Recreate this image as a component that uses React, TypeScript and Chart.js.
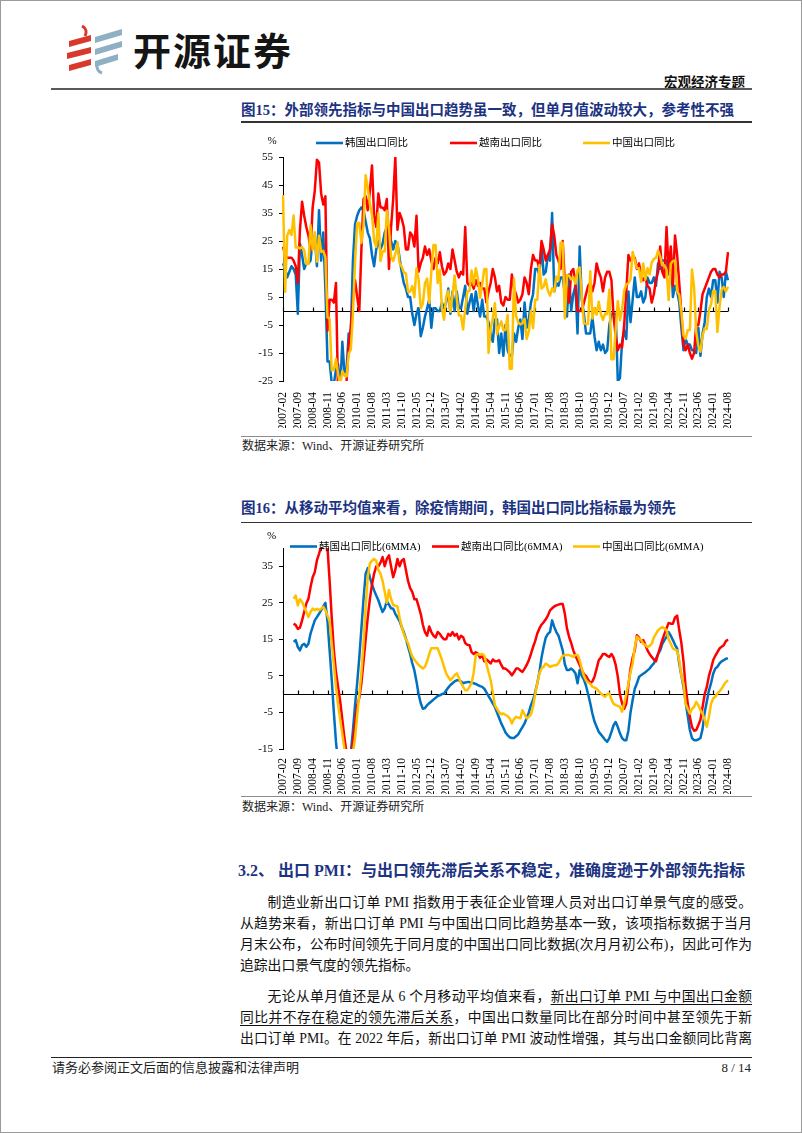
import React, { useEffect, useRef } from "react";
import { Chart, registerables } from "chart.js";

Chart.register(...registerables);

// ---------- categories (monthly, 2007-02 .. 2024-08) ----------
const MONTHS: string[] = [];
for (let y = 2007; y <= 2024; y++) {
  for (let m = 1; m <= 12; m++) {
    if (y === 2007 && m < 2) continue;
    if (y === 2024 && m > 8) continue;
    MONTHS.push(`${y}-${String(m).padStart(2, "0")}`);
  }
}

const TICK_LABELS = [
  "2007-02", "2007-09", "2008-04", "2008-11", "2009-06", "2010-01", "2010-08", "2011-03",
  "2011-10", "2012-05", "2012-12", "2013-07", "2014-02", "2014-09", "2015-04", "2015-11",
  "2016-06", "2017-01", "2017-08", "2018-03", "2018-10", "2019-05", "2019-12", "2020-07",
  "2021-02", "2021-09", "2022-04", "2022-11", "2023-06", "2024-01", "2024-08",
];

const Y1_TICKS = [-25, -15, -5, 5, 15, 25, 35, 45, 55];
const Y2_TICKS = [-15, -5, 5, 15, 25, 35];

const NAMES_1 = ["韩国出口同比", "越南出口同比", "中国出口同比"];
const NAMES_2 = ["韩国出口同比(6MMA)", "越南出口同比(6MMA)", "中国出口同比(6MMA)"];
const COLORS = ["#0070C0", "#FF0000", "#FFC000"];

// ---------- Figure 15: monthly YoY (%) ----------
const KOREA_YOY = [
  17, 15, 12, 14, 16, 15, 13, -1, 24, 20, 15,
  17, 17, 18, 26, 27, 16, 36, 18, 28, 8, -18, -18,
  -26, -26, -21, -19, -28, -11, -22, -21, -8, -8, 18, 31,
  34, 36, 37, 36, 32, 28, 26, 20, 16, 22, 25, 22,
  24, 28, 30, 27, 25, 22, 25, 24, 19, 14, 10, 8,
  5, 5, -1, -5, -1, 1, -9, -6, -2, 1, 4, -6,
  1, 1, 0, 0, 3, 1, 3, 8, -1, 7, 0, 7,
  1, 1, 5, 9, -1, 3, 6, 0, 7, 2, -2, 4,
  -2, -2, -4, -8, -11, -3, -3, -15, -8, -16, -5, -14,
  -16, -16, -8, -11, -6, -3, -10, 3, -6, -3, 3, 6,
  15, 15, 13, 24, 13, 14, 20, 18, 35, 7, 10, 9,
  12, 12, 6, -2, 13, 0, 6, 9, -8, 23, 4, -1,
  -8, -8, -8, -2, -9, -14, -11, -14, -12, -15, -14, -5,
  -1, -1, -1, -25, -24, -11, -7, -10, 7, -4, 4, 12,
  5, 5, 7, 3, 5, 12, 10, 10, 12, 9, 17, 15,
  18, 18, 18, 13, 21, 5, 9, 7, 3, -6, -14, -10,
  -12, -12, -14, -14, -15, -6, -16, -8, -4, 5, 8, 5,
  11, 11, 3, 14, 12, 5, 14, 11,
];

const VIETNAM_YOY = [
  23, 20, 19, 19, 19, 18, 16, 10, 29, 39, 34,
  30, 27, 22, 37, 43, 54, 53, 42, 38, 41, -7, 4,
  4, 3, 10, -30, -32, -30, -28, -25, -12, -6, 4, 11,
  5, 0, 22, 40, 41, 36, 43, 52, 34, 30, 42, 37,
  37, 36, 40, 15, 30, 40, 55, 29, 35, 33, 30, 22,
  22, 28, 27, 23, 34, 14, 17, 19, 23, 20, 22, 18,
  15, 19, 17, 21, 16, 13, 14, 17, 15, 22, 18, 14,
  12, 14, 13, 30, 10, 9, 10, 8, 11, 9, 10, 8,
  8, 3, 7, 10, 15, 12, 7, 9, 3, 2, 5, 4,
  4, 13, 8, 6, 3, 4, 6, 12, 10, 6, 15, 20,
  18, 18, 15, 25, 22, 18, 20, 22, 31, 27, 20, 18,
  15, 25, 10, 8, 3, 14, 15, 10, 0, 0, 0, 3,
  6, 9, 10, 7, 10, 17, 14, 12, 7, 12, 14, 14,
  11, -2, -9, -14, -12, -13, -5, 7, 20, 18, 19, 19,
  15, 17, 13, 11, 12, 9, 8, 3, 6, 11, 14, 23,
  14, 12, 30, 14, 23, 9, 27, 20, 10, -1, -12, -14,
  -12, -15, -17, -15, -5, -5, 0, 6, 8, 10, 12, 14,
  15, 15, 13, 12, 13, 13, 14, 21,
];

const CHINA_YOY = [
  41.4, 6.9, 26.9, 28.9, 27.1, 34.1, 22.7, 22.8, 22.3, 22.8, 21.7,
  16.8, 16.8, 30.6, 21.8, 28.1, 17.6, 26.9, 21.1, 21.5, 19.2, -2.2, -2.8,
  -21.1, -21.1, -17.1, -22.6, -26.4, -21.4, -23, -23.4, -15.2, -13.8, -1.2, 17.7,
  31.4, 31.4, 24.3, 30.5, 48.5, 43.9, 38.1, 34.4, 25.1, 22.9, 34.9, 17.9,
  21.3, 21.3, 35.8, 29.9, 19.4, 17.9, 20.4, 24.5, 17.1, 15.9, 13.8, 13.4,
  6.9, 6.9, 8.9, 4.9, 15.3, 11.3, 1, 2.7, 9.9, 11.6, 2.9, 14.1,
  23.6, 23.6, 10, 14.7, 1, -3.1, 5.1, 7.2, -0.3, 5.6, 12.7, 4.3,
  -1.6, -1.6, -6.6, 0.9, 7, 7.2, 14.5, 9.4, 15.3, 11.6, 4.7, 9.7,
  15, 15, -15, -6.4, -2.5, 2.8, -8.3, -5.5, -3.7, -6.9, -6.8, -1.4,
  -20.6, -20.6, 11.5, -1.8, -4.1, -4.8, -4.4, -2.8, -10, -7.3, 0.1, -6.1,
  4, 4, 16.4, 8, 8.7, 11.3, 7.2, 5.5, 8.1, 6.9, 12.3, 10.9,
  24.4, 24.4, -2.7, 12.9, 12.6, 11.3, 12.2, 9.8, 14.5, 15.6, 5.4, -4.4,
  -4.6, -4.6, 14.2, -2.7, 1.1, -1.3, 3.3, -1, -3.2, -0.9, -1.1, 7.6,
  -17.2, -17.2, -6.6, 3.5, -3.3, 0.5, 7.2, 9.5, 9.9, 11.4, 21.1, 18.1,
  15.3, 15.3, 10.4, 17, 11.2, 15.3, 13.1, 17.3, 18.6, 19, 21.5, 19.5,
  16.3, 16.3, 14.7, 3.9, 16.9, 17.9, 18, 7.1, 5.7, -0.3, -8.7, -9.9,
  -6.8, -6.8, 14.8, 8.5, -7.5, -12.4, -14.5, -8.8, -6.2, -6.4, 0.5, 2.3,
  7.1, 7.1, -7.5, 1.5, 7.6, 8.6, 7, 8.7,
];

// ---------- Figure 16: 6-month moving averages (%) ----------
const KOREA_6MMA = [
  null, null, null, null, null, 14.3, 14.8, 12.9, 12, 13.4, 13.8,
  13, 13.8, 16.6, 18.4, 20.2, 21.1, 22, 23, 24, 25, 20, 12,
  4, -5, -13, -19, -23, -25, -25, -24, -21, -16, -10, -3,
  3, 10, 18, 26, 33, 34.5, 32, 30, 28.4, 27, 25.7, 24,
  22.5, 23.5, 25.5, 24.5, 23.5, 23.4, 22, 21, 20, 18.4, 17, 15.2,
  13, 11, 8.5, 6.5, 3.5, 0, -2.5, -4, -3.8, -3, -2.5, -2,
  -1.5, -1, -0.5, -0.3, 0, 0.2, 1, 1.8, 2.5, 3, 3.5, 3.8,
  3.8, 3.5, 3, 3.2, 3.3, 3.3, 3.1, 3, 2.8, 2.5, 2.2, 2,
  1.5, 0.5, -0.5, -1.5, -2.5, -3.5, -5, -6.5, -8, -9.2, -10.5, -11.2,
  -11.8, -12, -12, -11.5, -11, -10, -9, -8, -6.5, -5, -3, -1.6,
  0.5, 3, 6, 10, 13, 15.5, 16.5, 17, 20.2, 18.4, 17, 16,
  14, 12, 8.2, 6.6, 6.6, 7, 6.5, 5.7, 3, 6.6, 5, 4,
  2.3, 0, -2.5, -5.3, -7.5, -8.9, -10.3, -11, -11.7, -12.5, -13, -12,
  -10.3, -8.5, -7.6, -9, -10.7, -12, -12.6, -12.6, -10, -5, -1.6, 1.5,
  2.9, 4.7, 5.2, 5.6, 6, 6.5, 7, 7.8, 8.4, 9.7, 11, 12,
  13.8, 14.8, 15.7, 17, 16, 14.8, 13.5, 12.5, 8.4, 5, 2, -2,
  -6, -9.8, -12, -12.6, -12.6, -12.4, -12, -9.5, -5, -2, 1, 3,
  5.6, 7, 7.5, 8.4, 9, 9.3, 9.7, 9.8,
];

const VIETNAM_6MMA = [
  null, null, null, null, null, 19.3, 18.9, 17.9, 18.2, 20.2, 22.5,
  24.8, 26.1, 29.3, 32, 33.4, 36.6, 38.4, 40.5, 40, 40.5, 40, 31,
  21, 12, 6, 2, -2, -7, -12, -16, -19, -17, -13, -8,
  -3, -1, 3, 9, 15, 21, 26, 30, 33, 35, 35, 36,
  37.5, 35, 37, 38, 35, 32, 34, 37, 35, 36.5, 37, 34,
  31, 29, 28, 26, 26, 24, 22, 19, 17, 16, 18.5, 17,
  16, 15.5, 17, 16.5, 15.6, 15, 15, 16.5, 16, 17, 16, 16.5,
  15, 16, 15.6, 14, 13.5, 13.4, 11.5, 11, 11.5, 11.1, 10, 10.6,
  9, 9.5, 9, 8.4, 9.5, 9, 9, 9.3, 8, 7, 7, 6.5,
  6, 5.2, 6, 7, 7, 6.5, 6.1, 7, 8, 9.3, 11, 12.9,
  14.5, 16.6, 18, 19, 19.7, 20.5, 21.5, 22.9, 23.5, 24, 24.3, 24.5,
  24.7, 24.7, 22, 18, 15.7, 14, 12, 10.5, 9.3, 8, 6.6, 5.5,
  5, 4, 3, 3.5, 4.8, 7, 9.3, 10, 11, 11, 10.5, 10.2,
  11, 10, 8, 4.8, 0, -2.5, -4, -2.6, 2.5, 7, 10, 12,
  16.1, 15.5, 14.3, 14.8, 13.5, 12, 11, 10.2, 9.5, 9, 11, 12.9,
  14.8, 16.5, 18, 19.5, 19.3, 19.3, 21, 21.5, 17.5, 14, 9, 2,
  -2.5, -6.2, -9, -10, -9.8, -8.5, -7, -3.5, 0, 2, 5, 7,
  9.3, 10.5, 11.5, 12.5, 13, 13.4, 14.5, 15,
];

const CHINA_6MMA = [
  null, null, null, null, null, 26.1, 27, 24.3, 26, 25.2, 23.9,
  22.5, 21.1, 22.5, 23.4, 23, 23.4, 23, 23.4, 23.9, 23, 21.5, 20,
  14, 8, 2, -3, -7, -11, -15, -18, -20, -19, -16, -12,
  -6, 0, 6, 14, 24, 32, 35.8, 36.5, 37, 36.5, 34, 33,
  31, 28, 25, 28.5, 26, 24.4, 24.2, 24, 21, 18.5, 16.5, 15,
  14, 12, 10.3, 9.5, 8.7, 8, 7.5, 7, 7.5, 9, 11, 12.6,
  12.6, 12.6, 12.6, 11, 9.4, 7.5, 5.7, 4.7, 3.8, 4.5, 5.2, 5.7,
  4.5, 3, 2, 1.1, 1.1, 2, 3, 6, 10.7, 11, 10.8, 11,
  10.5, 8.3, 6, 3.8, 0.5, -3, -4, -5, -5.5, -5.3, -5.7, -6,
  -6.6, -8, -6.8, -6.2, -6.4, -6.6, -4.4, -5.5, -6.6, -6.2, -5.5, -3.5,
  0, 3, 5.6, 7, 7.5, 8.4, 8, 7.5, 7.7, 7.9, 7.9, 8.5,
  9.5, 10.5, 10.7, 10.7, 10.7, 10.5, 10.2, 10.7, 10.7, 9.3, 7, 5,
  3.8, 3.2, 2.9, 2, 1.8, 1.5, 0.8, 0.2, -0.3, -0.7, 0, 0.2,
  -1.5, -2.6, -3, -3.2, -3.5, -4.8, -2.6, 0, 2.9, 6, 8.4, 12.9,
  15.7, 15.2, 14.8, 13.8, 13.5, 12.9, 13.2, 13.8, 15.5, 16.5, 17.5, 18,
  18.4, 18, 17.5, 15, 13.8, 12.5, 12.2, 12, 9.3, 5, 2.9, -2.6,
  -4, -5.3, -4, -3.5, -2.1, -3, -4.4, -5.3, -7, -8.9, -6.2, -2.6,
  -1.2, -0.7, 0.2, 0.8, 1.5, 2.5, 3.3, 3.8,
];

// ---------- styling ----------
const SERIF = '"Liberation Serif", "Noto Sans CJK SC", serif';
const NAVY = "#1c3382";

const decorPlugin = {
  id: "decor",
  beforeDatasetsDraw(chart: any, _args: any, o: any) {
    const { ctx, chartArea, scales } = chart;
    const y0 = Math.round(scales.y.getPixelForValue(0)) + 0.5;
    ctx.save();
    ctx.strokeStyle = "#000";
    ctx.lineWidth = 1.2;
    ctx.beginPath();
    ctx.moveTo(chartArea.left, y0);
    ctx.lineTo(chartArea.right, y0);
    TICK_LABELS.forEach((l) => {
      const i = MONTHS.indexOf(l);
      const x = Math.round(scales.x.getPixelForValue(i)) + 0.5;
      ctx.moveTo(x, y0);
      ctx.lineTo(x, y0 - 4);
    });
    ctx.stroke();
    ctx.restore();
  },
  afterDraw(chart: any, _args: any, o: any) {
    const { ctx } = chart;
    ctx.save();
    ctx.textBaseline = "middle";
    ctx.textAlign = "left";
    chart.data.datasets.forEach((ds: any, i: number) => {
      const x = o.legendX[i];
      const y = o.legendY;
      ctx.strokeStyle = ds.borderColor;
      ctx.lineWidth = 2.6;
      ctx.beginPath();
      ctx.moveTo(x, y);
      ctx.lineTo(x + o.lineLen, y);
      ctx.stroke();
      ctx.fillStyle = "#000";
      ctx.font = `10.5px ${SERIF}`;
      ctx.fillText(ds.label, x + o.lineLen + 2, y + 0.5);
    });
    ctx.font = `11px ${SERIF}`;
    ctx.fillStyle = "#000";
    ctx.textAlign = "center";
    ctx.fillText("%", o.pctX, o.pctY);
    ctx.restore();
  },
};

type LineProps = {
  names: string[];
  series: (number | null)[][];
  yMin: number;
  yMax: number;
  yTicks: number[];
  width: number;
  height: number;
  left: number;
  top: number;
  padTop: number;
  xHeight: number;
  xPad: number;
  legendX: number[];
  legendY: number;
  pctX: number;
  pctY: number;
};

function LineChart(p: LineProps) {
  const ref = useRef<HTMLCanvasElement | null>(null);
  useEffect(() => {
    if (!ref.current) return;
    const yFont = { family: SERIF, size: 11 };
    const xFont = { family: SERIF, size: 11.5 };
    const chart = new Chart(ref.current, {
      type: "line",
      data: {
        labels: MONTHS,
        datasets: p.series.map((s, i) => ({
          label: p.names[i],
          data: s,
          borderColor: COLORS[i],
          backgroundColor: COLORS[i],
          borderWidth: 2.5,
          pointRadius: 0,
          tension: 0,
          borderJoinStyle: "round",
          order: 2 - i,
        })),
      } as any,
      options: {
        animation: false,
        responsive: false,
        devicePixelRatio: 1,
        layout: { padding: { top: p.padTop, right: 24, left: 0, bottom: 0 } },
        plugins: {
          legend: { display: false },
          tooltip: { enabled: false },
          decor: { legendX: p.legendX, legendY: p.legendY, lineLen: 27, pctX: p.pctX, pctY: p.pctY },
        } as any,
        scales: {
          x: {
            type: "category",
            offset: false,
            grid: { display: false },
            border: { display: false },
            ticks: {
              autoSkip: false,
              minRotation: 90,
              maxRotation: 90,
              padding: p.xPad,
              color: "#000",
              font: xFont,
              callback: (_v: any, i: number) => (TICK_LABELS.includes(MONTHS[i]) ? MONTHS[i] : ""),
            },
            afterFit: (s: any) => {
              s.height = p.xHeight;
            },
          },
          y: {
            min: p.yMin,
            max: p.yMax,
            afterBuildTicks: (s: any) => {
              s.ticks = p.yTicks.map((v) => ({ value: v }));
            },
            ticks: { color: "#000", font: yFont, padding: 6 },
            grid: { display: true, drawOnChartArea: false, drawTicks: true, tickLength: 4, color: "#000", lineWidth: 1 },
            border: { display: true, color: "#000", width: 1 },
            afterFit: (s: any) => {
              s.width = 43;
            },
          },
        } as any,
      },
      plugins: [decorPlugin as any],
    });
    return () => chart.destroy();
  }, []);
  return (
    <canvas
      ref={ref}
      width={p.width}
      height={p.height}
      style={{ position: "absolute", left: p.left, top: p.top, width: p.width, height: p.height }}
    />
  );
}

function Txt(props: {
  x?: number;
  right?: number;
  cy: number;
  size: number;
  lh?: number;
  bold?: boolean;
  color?: string;
  style?: React.CSSProperties;
  children: React.ReactNode;
}) {
  const lh = props.lh ?? Math.round(props.size * 1.4);
  const st: React.CSSProperties = {
    position: "absolute",
    top: props.cy - lh / 2,
    lineHeight: `${lh}px`,
    fontSize: props.size,
    fontWeight: props.bold ? 700 : 400,
    color: props.color ?? "#111",
    whiteSpace: "nowrap",
    ...props.style,
  };
  if (props.x !== undefined) st.left = props.x;
  if (props.right !== undefined) st.right = props.right;
  return <div style={st}>{props.children}</div>;
}

function Rule({ x, y, w, h, c }: { x: number; y: number; w: number; h: number; c: string }) {
  return <div style={{ position: "absolute", left: x, top: y, width: w, height: h, background: c }} />;
}

function JLine({ cy, indent, last, children }: { cy: number; indent?: boolean; last?: boolean; children: React.ReactNode }) {
  return (
    <div
      style={{
        position: "absolute",
        left: 240,
        top: cy - 10.5,
        width: 512,
        lineHeight: "21px",
        fontSize: 13.8,
        color: "#111",
        textAlign: last ? "left" : "justify",
        textAlignLast: last ? "left" : "justify",
        textIndent: indent ? "2em" : 0,
      } as React.CSSProperties}
    >
      {children}
    </div>
  );
}

function Logo() {
  return (
    <svg width={60} height={50} style={{ position: "absolute", left: 66, top: 25 }} viewBox="0 0 60 50">
      <path d="M16 1 C20 3 21 7 19 11" stroke="#d9392b" strokeWidth={3} fill="none" />
      <polygon points="3,16 25,10 25,16 3,22" fill="#d9392b" />
      <polygon points="1,28 25,22 25,28 1,34" fill="#d9392b" />
      <polygon points="3,40 25,34 25,40 3,46" fill="#d9392b" />
      <polygon points="29,12 56,4 56,10 29,18" fill="#8fb0c3" />
      <polygon points="29,24 56,16 56,22 29,30" fill="#8fb0c3" />
      <polygon points="29,36 52,29 52,35 29,42" fill="#8fb0c3" />
      <path d="M31 41 C31 45 33 47 36 48" stroke="#8fb0c3" strokeWidth={3} fill="none" />
    </svg>
  );
}

export default function App() {
  const u: React.CSSProperties = { textDecoration: "underline", textUnderlineOffset: "3px" };
  return (
    <div
      style={{
        position: "relative",
        width: 802,
        height: 1133,
        background: "#fff",
        overflow: "hidden",
        fontFamily: SERIF,
      }}
    >
      <style>{`body{margin:0;background:#fff}`}</style>
      <div style={{ position: "absolute", inset: 0, border: "1px solid #9a9a9a", pointerEvents: "none" }} />

      <Logo />
      <Txt x={133} cy={49} size={38} lh={46} bold color="#151515" style={{ letterSpacing: 2, fontFamily: '"Noto Sans CJK SC", sans-serif' }}>
        开源证券
      </Txt>
      <Txt right={57} cy={82} size={13.5} bold color="#111">
        宏观经济专题
      </Txt>
      <Rule x={51} y={88} w={701} h={2} c="#5a5a5a" />

      <Txt x={241} cy={110} size={14.5} bold color={NAVY}>
        图15：外部领先指标与中国出口趋势虽一致，但单月值波动较大，参考性不强
      </Txt>
      <Rule x={241} y={121} w={511} h={1.5} c="#333" />

      <LineChart
        names={NAMES_1}
        series={[KOREA_YOY, VIETNAM_YOY, CHINA_YOY]}
        yMin={-25}
        yMax={55}
        yTicks={Y1_TICKS}
        width={512}
        height={300}
        left={240}
        top={128}
        padTop={29}
        xHeight={47}
        xPad={3}
        legendX={[76, 210, 343]}
        legendY={15}
        pctX={32}
        pctY={13}
      />

      <Rule x={241} y={435.5} w={511} h={1.5} c="#8c8c8c" />
      <Txt x={242} cy={446.5} size={12} color="#222">
        数据来源：Wind、开源证券研究所
      </Txt>

      <Txt x={241} cy={508} size={14.5} bold color={NAVY}>
        图16：从移动平均值来看，除疫情期间，韩国出口同比指标最为领先
      </Txt>
      <Rule x={241} y={521.5} w={511} h={1.5} c="#333" />

      <LineChart
        names={NAMES_2}
        series={[KOREA_6MMA, VIETNAM_6MMA, CHINA_6MMA]}
        yMin={-15}
        yMax={40}
        yTicks={Y2_TICKS}
        width={512}
        height={267}
        left={240}
        top={527}
        padTop={21}
        xHeight={45}
        xPad={1}
        legendX={[50, 192, 333]}
        legendY={19.5}
        pctX={31.5}
        pctY={9}
      />

      <Rule x={241} y={795.5} w={511} h={1.5} c="#8c8c8c" />
      <Txt x={242} cy={807} size={12} color="#222">
        数据来源：Wind、开源证券研究所
      </Txt>

      <Txt x={238} cy={871} size={16} bold color={NAVY}>
        3.2、 出口 PMI：与出口领先滞后关系不稳定，准确度逊于外部领先指标
      </Txt>

      <JLine cy={902} indent>
        制造业新出口订单 PMI 指数用于表征企业管理人员对出口订单景气度的感受。
      </JLine>
      <JLine cy={923}>从趋势来看，新出口订单 PMI 与中国出口同比趋势基本一致，该项指标数据于当月</JLine>
      <JLine cy={944}>月末公布，公布时间领先于同月度的中国出口同比数据(次月月初公布)，因此可作为</JLine>
      <JLine cy={965} last>
        追踪出口景气度的领先指标。
      </JLine>

      <JLine cy={996} indent>
        无论从单月值还是从 6 个月移动平均值来看，<span style={u}>新出口订单 PMI 与中国出口金额</span>
      </JLine>
      <JLine cy={1017}>
        <span style={u}>同比并不存在稳定的领先滞后关系</span>，中国出口数量同比在部分时间中甚至领先于新
      </JLine>
      <JLine cy={1038}>出口订单 PMI。在 2022 年后，新出口订单 PMI 波动性增强，其与出口金额同比背离</JLine>

      <Rule x={51} y={1056.5} w={701} h={1.5} c="#222" />
      <Txt x={52} cy={1068} size={13} color="#222">
        请务必参阅正文后面的信息披露和法律声明
      </Txt>
      <Txt right={51} cy={1068} size={13} color="#222">
        8 / 14
      </Txt>
    </div>
  );
}
